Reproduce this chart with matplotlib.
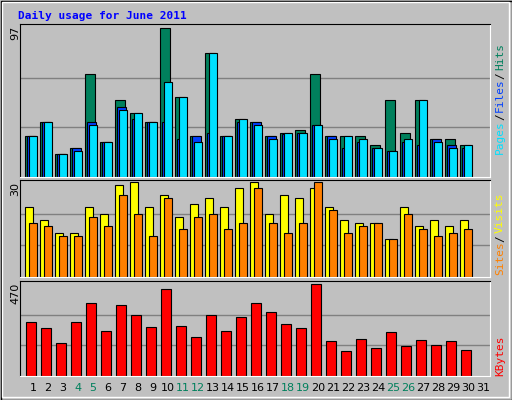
import matplotlib
matplotlib.use("Agg")
import matplotlib.pyplot as plt
from matplotlib.patches import Rectangle
import numpy as np

days = list(range(1, 31))
all_labels = [str(d) for d in range(1, 32)]
weekend = {4, 5, 11, 12, 18, 19, 25, 26}
hits = [27,36,15,19,67,23,50,42,36,97,52,27,81,27,38,36,27,29,31,67,27,27,27,21,50,29,50,25,25,21]
files = [27,36,15,19,36,23,46,38,36,36,25,27,29,27,36,36,27,28,29,34,27,19,23,19,17,23,21,25,21,19]
pages = [27,36,15,17,34,23,44,42,36,62,52,23,81,27,38,34,25,29,29,34,25,27,25,19,17,25,50,23,19,21]
sites = [22,18,14,14,22,20,29,30,22,26,19,23,25,22,28,30,20,26,25,28,22,18,17,17,12,22,16,18,16,18]
visits = [17,16,13,13,19,16,26,20,13,25,15,19,20,15,17,28,17,14,17,30,21,14,16,17,12,20,15,13,14,15]
kbytes = [274,243,170,274,372,227,361,310,248,444,253,201,310,227,300,372,325,263,243,470,176,129,191,145,222,155,181,160,176,134]

W, H = 512, 400
fig = plt.figure(figsize=(W/100, H/100), dpi=100)
fig.patch.set_facecolor('#C0C0C0')
bg = fig.add_axes([0, 0, 1, 1]); bg.set_xlim(0, W); bg.set_ylim(H, 0); bg.axis('off')
bg.add_patch(Rectangle((0.5, 0.5), W-1, H-1, fill=False, ec='black', lw=1))
bg.add_patch(Rectangle((2, 2), W-5, H-5, fill=False, ec='white', lw=1))
bg.text(18, 16, 'Daily usage for June 2011', color='#0000FF', family='DejaVu Sans Mono',
        weight='bold', fontsize=8, va='center')

X0, X1 = 20, 490
panels = [(24, 177), (180, 277), (281, 376)]
def mkax(t, b):
    ax = fig.add_axes([X0/W, 1-b/H, (X1-X0)/W, (b-t)/H])
    ax.set_facecolor('#C0C0C0')
    ax.set_xlim(0, 31.33)
    ax.set_xticks([]); ax.set_yticks([])
    for s in ['top', 'left']:
        ax.spines[s].set_color('black')
    for s in ['bottom', 'right']:
        ax.spines[s].set_color('white')
    return ax

x = np.array(days) - 1 + 0.33
kw = dict(align='edge', edgecolor='black', linewidth=0.8)

ax1 = mkax(*panels[0])
ax1.set_ylim(0, 97 * 1.03)
for g in (97/3, 97*2/3):
    ax1.axhline(g, color='#808080', lw=1, zorder=0)
ax1.bar(x, hits, width=0.67, color='#00805C', **kw)
ax1.bar(x + 0.13, files, width=0.6, color='#0040FF', **kw)
ax1.bar(x + 0.27, pages, width=0.53, color='#00E0FF', **kw)

ax2 = mkax(*panels[1])
ax2.set_ylim(0, 30 * 1.02)
for g in (10, 20):
    ax2.axhline(g, color='#808080', lw=1, zorder=0)
ax2.bar(x, sites, width=0.56, color='#FFFF00', **kw)
ax2.bar(x + 0.27, visits, width=0.53, color='#FF8000', **kw)

ax3 = mkax(*panels[2])
ax3.set_ylim(0, 470 * 1.03)
for g in (470/3, 470*2/3):
    ax3.axhline(g, color='#808080', lw=1, zorder=0)
ax3.bar(x + 0.07, kbytes, width=0.66, color='#FF0000', **kw)

fs = 8
for (t, b), lab in zip(panels, ['97', '30', '470']):
    bg.text(15, t + 2, lab, rotation=90, ha='center', va='top', fontsize=fs, color='black')

def right_words(bottom, words):
    y = bottom
    for w, c in words:
        bg.text(500, y, w, rotation=90, ha='center', va='bottom', fontsize=fs,
                color=c, family='DejaVu Sans Mono')
        y -= len(w) * 6.3 + 2

right_words(154, [('Pages', '#00E0FF'), ('/', 'black'), ('Files', '#0040FF'), ('/', 'black'), ('Hits', '#00805C')])
right_words(275, [('Sites', '#FF8000'), ('/', 'black'), ('Visits', '#FFFF00')])
right_words(376, [('KBytes', '#FF0000')])

for i, lab in enumerate(all_labels):
    px = X0 + (i + 0.33 + 0.53) * (X1 - X0) / 31.33
    c = '#00805C' if (i + 1) in weekend else 'black'
    bg.text(px, 388, lab, ha='center', va='center', fontsize=fs, color=c)

fig.savefig('out.png', dpi=100, facecolor=fig.get_facecolor())
